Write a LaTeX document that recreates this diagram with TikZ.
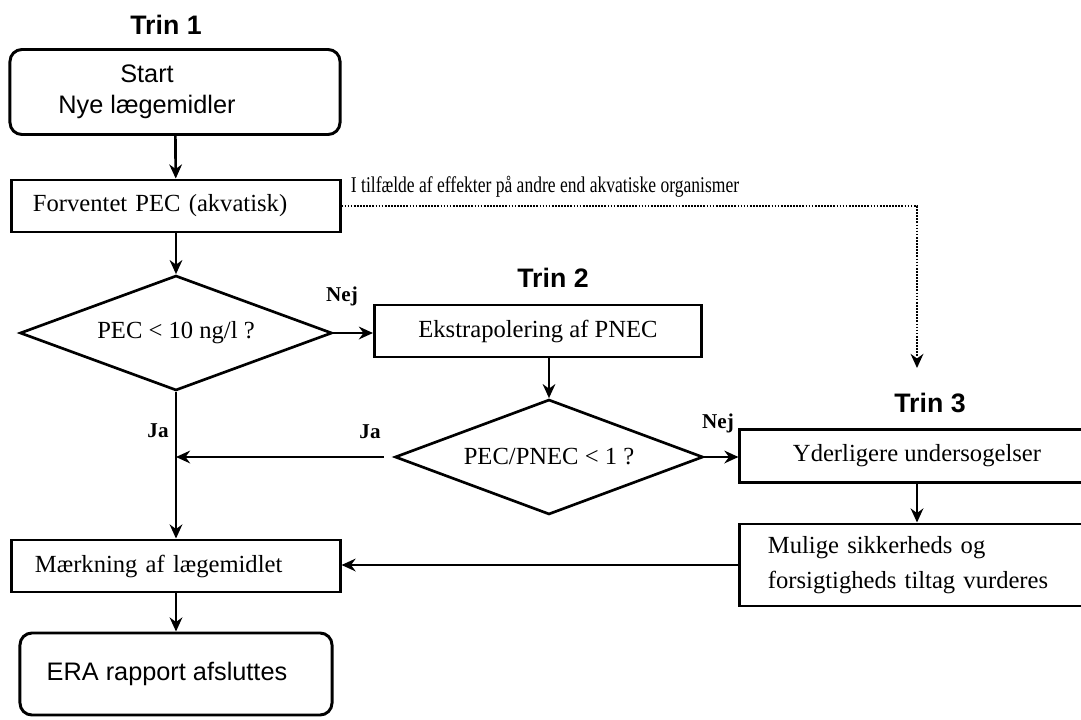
\documentclass[tikz,border=0pt]{standalone}
\usepackage{fontspec}
\setmainfont{Liberation Serif}
\setsansfont{Liberation Sans}
\newfontfamily\narrowserif[FakeStretch=0.78]{Liberation Serif}
\usetikzlibrary{positioning, calc, arrows.meta, shapes.geometric}

\begin{document}
\begin{tikzpicture}[x=0.025cm, y=-0.025cm, >={Stealth[length=10pt, width=9pt]}, line width=1.9pt,
    box/.style={draw, rectangle, line width=2.1pt, minimum height=1.3cm, font=\fontsize{17.5}{25}\selectfont},
    leftbox/.style={box, align=left},
    endbox/.style={draw, rectangle, rounded corners=0.3cm, line width=2.1pt, align=center, font=\sffamily\fontsize{18}{22}\selectfont},
    question/.style={draw, diamond, aspect=2.7, inner sep=0pt, font=\fontsize{17.5}{20}\selectfont},
    trin/.style={font=\sffamily\bfseries\fontsize{19}{22}\selectfont},
    answer/.style={font=\bfseries\fontsize{15}{18}\selectfont},
    dotline/.style={dash pattern=on 1.2pt off 1pt}]

    \useasboundingbox (0,0) rectangle (1081,719);

    % Step headings
    \node[trin] (trin1) at (166,25) {Trin 1};
    \node[trin] (trin2) at (553,278) {Trin 2};
    \node[trin] (trin3) at (930,403) {Trin 3};

    % Trin 1 column
    \node[endbox, minimum width=8.25cm, minimum height=2.125cm] (start) at (175,92)
        {Start\hspace*{1.4cm}\\Nye lægemidler\hspace*{1.4cm}};
    \node[leftbox, inner xsep=0.525cm, text width=7.15cm] (forv) at (176,206) {Forventet PEC (akvatisk)};
    \node[question, minimum width=7.8cm, minimum height=2.875cm] (q1) at (176,333) {PEC < 10 ng/l ?};
    \node[leftbox, inner xsep=0.575cm, text width=7.05cm] (mark) at (176,566) {Mærkning af lægemidlet};
    \node[endbox, minimum width=7.8cm, minimum height=2.05cm] (era) at (176,674)
        {ERA rapport afsluttes\hspace*{0.45cm}};

    % Trin 2 column
    \node[box, minimum width=8.175cm] (ekstra) at (538,331) {Ekstrapolering af PNEC};
    \node[question, minimum width=7.7cm, minimum height=2.875cm] (q2) at (549,457) {PEC/PNEC < 1 ?};

    % Trin 3 column
    \node[box, minimum width=8.85cm, minimum height=1.325cm] (yderl) at (917,456) {Yderligere undersogelser};
    \node[leftbox, inner xsep=0.7cm, text width=7.45cm, minimum height=2.05cm] (mulige) at (917,565)
        {Mulige sikkerheds og\\forsigtigheds tiltag vurderes};

    % Connections
    \draw[->] (start) -- (forv);
    \draw[->] (forv) -- (q1);
    \draw[->] (q1.east) -- (q1.east -| ekstra.west);
    \draw[->] (q2.north |- ekstra.south) -- (q2.north);
    \coordinate (jamerge) at (q2.west -| q1.south);
    \draw[->, shorten <=10*0.025cm] (q2.west) -- (jamerge);
    \draw[->] (q1.south) -- (mark.north);
    \draw[->] (q2.east) -- (q2.east -| yderl.west);
    \draw[->] (yderl) -- (mulige);
    \draw[->] (mulige.west) -- (mulige.west -| mark.east);
    \draw[->] (mark) -- (era);

    % Other organisms branch
    \coordinate (dotend) at (917,368);
    \draw[->, dotline] (forv.east) -| (dotend);
    \node[font=\narrowserif\fontsize{16}{19}\selectfont] (note) at (545,187)
        {I tilfælde af effekter på andre end akvatiske organismer};

    % Answers
    \node[answer] (nej1) at (342,296) {Nej};
    \node[answer] (ja1) at (158,431) {Ja};
    \node[answer] (ja2) at (370,432) {Ja};
    \node[answer] (nej2) at (718,423) {Nej};

\end{tikzpicture}
\end{document}
